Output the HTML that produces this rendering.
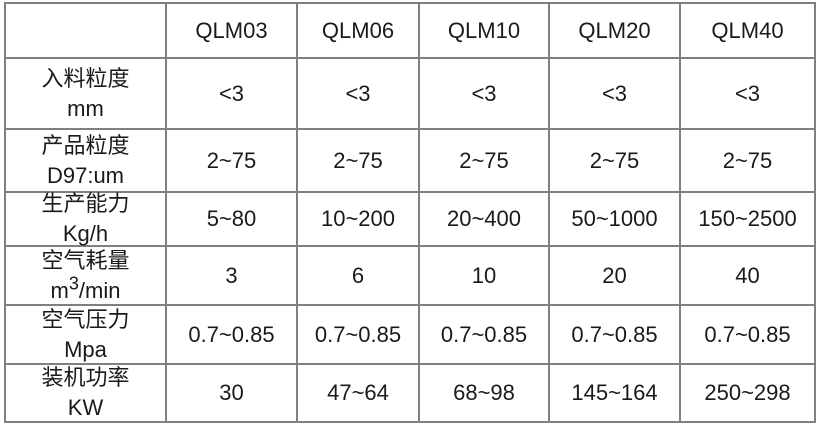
<!DOCTYPE html><html><head><style>
body{margin:0;width:818px;height:425px;background:#fff;position:relative;overflow:hidden;font-family:"Liberation Sans","Noto Sans CJK SC",sans-serif;color:#1a1a1a}
.h,.v{position:absolute;background:#808080}
.h{height:2px;left:4px;width:812px}
.v{width:2px;top:2px;height:421px}
.c{position:absolute;display:flex;align-items:center;justify-content:center;text-align:center;font-size:22px;line-height:30px}
</style></head><body>
<div class="h" style="top:2px"></div><div class="h" style="top:57px"></div><div class="h" style="top:128px"></div><div class="h" style="top:191px"></div><div class="h" style="top:245px"></div><div class="h" style="top:304px"></div><div class="h" style="top:363px"></div><div class="h" style="top:421px"></div>
<div class="v" style="left:4px"></div><div class="v" style="left:165px"></div><div class="v" style="left:296px"></div><div class="v" style="left:418px"></div><div class="v" style="left:548px"></div><div class="v" style="left:679px"></div><div class="v" style="left:814px"></div>
<div id="t"></div>
<script>
var xs=[5,166,297,419,549,680,815],ys=[3,58,129,192,246,305,364,422];
var d=[["","QLM03","QLM06","QLM10","QLM20","QLM40"],
["入料粒度<br>mm","&lt;3","&lt;3","&lt;3","&lt;3","&lt;3"],
["产品粒度<br>D97:um","2~75","2~75","2~75","2~75","2~75"],
["生产能力<br>Kg/h","5~80","10~200","20~400","50~1000","150~2500"],
["空气耗量<br>m<sup style='font-size:18px;line-height:0'>3</sup>/min","3","6","10","20","40"],
["空气压力<br>Mpa","0.7~0.85","0.7~0.85","0.7~0.85","0.7~0.85","0.7~0.85"],
["装机功率<br>KW","30","47~64","68~98","145~164","250~298"]];
var h="";for(var r=0;r<7;r++)for(var c=0;c<6;c++){h+='<div class="c" style="left:'+xs[c]+'px;top:'+ys[r]+'px;width:'+(xs[c+1]-xs[c])+'px;height:'+(ys[r+1]-ys[r])+'px"><div>'+d[r][c]+'</div></div>';}
document.getElementById('t').innerHTML=h;
</script>
</body></html>
